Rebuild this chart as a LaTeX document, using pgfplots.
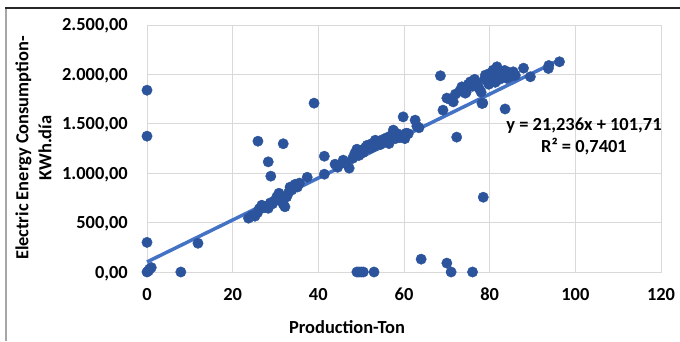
\documentclass[border=0pt]{standalone}
\usepackage{pgfplots}
\pgfplotsset{compat=1.18}
\usepackage{fontspec}
\setmainfont{Carlito}
\definecolor{mk}{RGB}{44,84,156}
\definecolor{tl}{RGB}{68,114,196}
\definecolor{gr}{RGB}{217,217,217}
\pgfplotstableread{
x y
0 1840
0 1375
0 300
0 0
0.3 10
0.6 30
1 45
7.9 0
11.9 291
25.9 1324
28.3 1115
28.9 970
31.8 1298
39 1709
41.4 1172
78.5 757
72.3 1365
68.5 1986
83.6 1650
64 130
70 90
71 0
76 0
49 0
49.5 0
50 0
50.5 0
53 0
23.7 545
24.5 570
25.2 565
25.8 600
26.2 640
26.8 676
27.3 650
27.8 660
28.3 645
28.8 700
29.3 690
29.8 720
30.3 760
30.8 797
31.3 720
31.8 686
32.2 660
32.6 760
33 800
33.4 859
33.8 830
34.2 870
34.6 888
35.1 860
35.6 900
37.4 959
41.4 990
43.9 1091
44.5 1060
45.8 1132
46.3 1100
47.2 1051
48 1150
48.5 1200
49 1243
49.5 1180
50 1230
50.5 1210
51 1260
51.4 1283
52 1250
52.5 1300
53 1270
53.3 1334
54 1310
54.5 1290
55 1340
55.5 1320
56 1360
56.5 1300
57 1380
57.5 1436
58 1350
58.5 1400
59 1360
59.8 1570
60.2 1350
60.5 1405
61 1400
62.6 1537
63 1476
63.5 1460
69.1 1638
70 1760
70.6 1750
71.5 1722
72 1800
73 1830
73.5 1874
74 1850
74.3 1810
74.5 1820
75 1900
75.5 1925
76 1880
76.5 1950
77 1900
77.5 1860
78 1820
78.2 1706
78.4 1709
78.8 1950
79 1993
79.4 1976
79.8 1900
80 2010
80.3 1960
80.8 2043
81 1980
81.3 1920
81.7 2077
82 2000
82.3 1950
82.7 2030
83 1990
83.5 2040
84 1960
84.5 2020
85 1980
85.5 2026
86 1990
87.9 2063
89.5 1976
93.7 2060
93.8 2090
96.3 2128
}\datatable
\begin{document}
\begin{tikzpicture}[x=1bp,y=1bp]
\path[use as bounding box] (0,0) rectangle (680,341);
\draw[gray!70, line width=1.2bp] (6,0) -- (6,333);
\draw[black!85, line width=1.2bp] (5.4,333) -- (680,333);
\begin{axis}[
  at={(147bp,69bp)}, anchor=south west,
  scale only axis, width=514bp, height=247bp,
  xmin=0, xmax=120, ymin=0, ymax=2500,
  xtick={0,20,...,120}, ytick={0,500,...,2500},
  grid=major, grid style={gr, line width=0.9bp},
  axis line style={gr, line width=0.9bp},
  major tick length=0pt,
  clip=false,
  tick label style={font=\fontsize{18.5}{22}\selectfont\bfseries},
  /pgf/number format/assume math mode=true,
  yticklabel style={/pgf/number format/fixed, /pgf/number format/fixed zerofill, /pgf/number format/precision=2, /pgf/number format/use comma, /pgf/number format/1000 sep={.}},
  yticklabel style={anchor=base east, inner sep=0pt, xshift=-19bp, yshift=-6bp},
  xticklabel style={anchor=base, inner sep=0pt, yshift=-28bp},
  xticklabel={\pgfmathprintnumber[fixed,precision=0]{\tick}},
]
\addplot[only marks, mark=*, mark size=5.2bp, mk, mark options={fill=mk, draw=mk}] table[x=x,y=y] {\datatable};
\addplot[tl, line width=3.5bp] coordinates {(0,101.71) (96.3,2146.7)};
\end{axis}
\node[font=\fontsize{18.5}{22}\selectfont\bfseries] at (347,14) {Production-Ton};
\node[font=\fontsize{18.5}{23}\selectfont\bfseries, rotate=90, align=center] at (33.5,193) {Electric Energy Consumption-\\KWh.día};
\node[font=\fontsize{18.5}{22}\selectfont\bfseries, align=center] at (584,205) {y = 21,236x + 101,71\\R² = 0,7401};
\end{tikzpicture}
\end{document}
